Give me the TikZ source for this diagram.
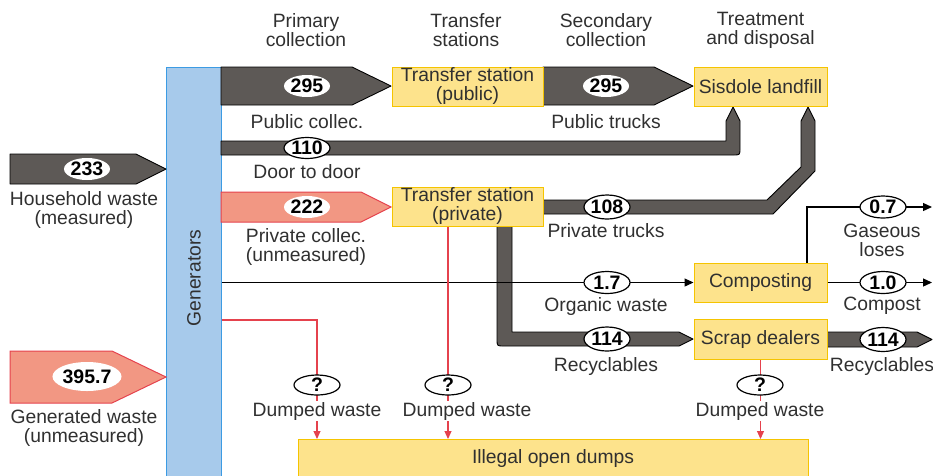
\documentclass[tikz,border=0pt]{standalone}
\usepackage{fontspec}
\setmainfont{Liberation Sans}
\usetikzlibrary{arrows.meta,shapes.geometric}
\definecolor{flowgray}{HTML}{5D5956}
\definecolor{boxfill}{HTML}{FDE38C}
\definecolor{boxedge}{HTML}{F5C400}
\definecolor{genfill}{HTML}{A7CAEB}
\definecolor{genedge}{HTML}{3C9BE3}
\definecolor{salmon}{HTML}{F29783}
\definecolor{salmonedge}{HTML}{E5424D}
\definecolor{txt}{HTML}{303030}
\tikzset{
  box/.style={draw=boxedge, fill=boxfill, line width=1pt, inner sep=0pt, align=center, text=txt},
  val/.style={ellipse, fill=white, draw=black, line width=1.2pt, minimum width=46, minimum height=22,
              inner sep=0pt, font=\fontsize{19.5}{19}\bfseries\selectfont},
  valbare/.style={val, draw=none},
  lbl/.style={align=center, text=txt, inner sep=1pt},
  flow/.style={fill=flowgray, draw=black, line width=0.9pt, line join=round},
  uflow/.style={fill=salmon, draw=salmonedge, line width=1pt, line join=miter},
  thinflow/.style={draw=black, line width=1.2pt, -{Triangle[length=9pt,width=8pt]}},
  dump/.style={draw=salmonedge, line width=1.1pt, -{Triangle[length=8pt,width=7pt]}},
}
\begin{document}
\begin{tikzpicture}[x=1pt, y=-1pt, font=\fontsize{19.3}{19}\selectfont]
\clip (0,0) rectangle (933,475);

% column headers
\node[lbl] (h1) at (306,30) {Primary\\collection};
\node[lbl] (h2) at (466,30) {Transfer\\stations};
\node[lbl] (h3) at (606,30) {Secondary\\collection};
\node[lbl] (h4) at (760.5,30) {Treatment\\and disposal};

% generators column
\node[draw=genedge, fill=genfill, line width=1pt, minimum width=55, minimum height=415, inner sep=0pt] (gen) at (193.5,274.5) {};
\node[text=txt, rotate=90] (gentxt) at (194,278) {Generators};

% yellow boxes (positions only, drawn later on top of the flows)
\path (467.5,86.5) coordinate (tspubc) (467.5,206.5) coordinate (tsprivc)
      (760.5,86.5) coordinate (landc) (760.5,282.5) coordinate (compc) (760.5,339) coordinate (scrapc);

% wide flows
\draw[flow] (10,154) -- (136,154) -- (166,169) -- (136,184) -- (10,184) -- cycle;
\draw[flow] (221,67) -- (352,67) -- (391,86) -- (352,105) -- (221,105) -- cycle;
\draw[flow] (543,67) -- (654,67) -- (693,86) -- (654,105) -- (543,105) -- cycle;
\draw[uflow] (221,192) -- (361,192) -- (391,207) -- (361,222) -- (221,222) -- cycle;
\draw[uflow] (10,351) -- (112,351) -- (166,377) -- (112,403) -- (10,403) -- cycle;
% door to door, up into the landfill
\draw[flow] (221,141) -- (726,141) -- (726,121) -- (733,107) -- (740,121) -- (740,148)
   .. controls (740,155) .. (733,155) -- (221,155) -- cycle;
% private trucks, up into the landfill
\draw[flow] (543,200) -- (767,200) -- (801,167) -- (801,121) -- (808,107) -- (815,121)
   -- (815,171) -- (773,214) -- (543,214) -- cycle;
% recyclables down and across to the scrap dealers
\draw[flow] (497,226) -- (497,339) .. controls (497,346) .. (504,346) -- (679,346) -- (693,339)
   -- (679,332) -- (512,332) -- (512,226) -- cycle;
% recyclables out of the scrap dealers
\draw[flow] (827,332) -- (917,332) -- (932,339.5) -- (917,347) -- (827,347) -- cycle;

% boxes
\node[box, minimum width=151, minimum height=39] (tspub) at (tspubc) {Transfer station\\(public)};
\node[box, minimum width=151, minimum height=39] (tspriv) at (tsprivc) {Transfer station\\(private)};
\node[box, minimum width=133, minimum height=39] (land) at (landc) {Sisdole landfill};
\node[box, minimum width=133, minimum height=39] (comp) at (compc) {Composting};
\node[box, minimum width=133, minimum height=40] (scrap) at (scrapc) {Scrap dealers};
\node[box, minimum width=510, minimum height=50, anchor=north west] (dumps) at (298,439) {};
\node[text=txt] (dumpstxt) at (553,458) {Illegal open dumps};

% thin flows
\coordinate (gasbend) at (807,207);
\coordinate (gasend) at (932,207);
\coordinate (compend) at (932,282.5);
\draw[thinflow] (gen.east |- comp.west) -- (comp.west);
\draw[thinflow] (comp.north -| gasbend) -- (gasbend) -- (gasend);
\draw[thinflow] (comp.east) -- (compend);

% dumped waste
\coordinate (d1) at (317,320);
\draw[dump] (gen.east |- d1) -- (d1) -- (d1 |- dumps.north);
\draw[dump] (tspriv.south -| 448,0) -- (448,0 |- dumps.north);
\draw[dump] (scrap.south) -- (scrap.south |- dumps.north);

% flow values
\node[valbare] (v233) at (87,169) {233};
\node[valbare] (v295a) at (307,86) {295};
\node[val, minimum height=21] (v110) at (307,148) {110};
\node[valbare] (v295b) at (606,86) {295};
\node[valbare] (v222) at (307,207) {222};
\node[val, minimum height=24] (v108) at (607,207) {108};
\node[val] (v17) at (607,282.5) {1.7};
\node[val, minimum height=24] (v114a) at (607,339) {114};
\node[val] (v07) at (883,207) {0.7};
\node[val] (v10) at (883,282.5) {1.0};
\node[val, minimum height=24] (v114b) at (883,339.5) {114};
\node[valbare, minimum width=65, minimum height=29] (v3957) at (87,376.5) {395.7};
\node[val, minimum height=20] (q1) at (317,385) {?};
\node[val, minimum height=20] (q2) at (448,385) {?};
\node[val, minimum height=20] (q3) at (760,385) {?};

% labels
\node[lbl] (lhh) at (84,210) {Household waste\\(measured)};
\node[lbl] (lgw) at (84,428) {Generated waste\\(unmeasured)};
\node[lbl] (lpc) at (307,121.5) {Public collec.};
\node[lbl] (ldd) at (307,171.5) {Door to door};
\node[lbl] (lpt) at (606,121.5) {Public trucks};
\node[lbl] (lprc) at (306,246.5) {Private collec.\\(unmeasured)};
\node[lbl] (lprt) at (606,230.5) {Private trucks};
\node[lbl] (lorg) at (606,306) {Organic waste};
\node[lbl] (lrec1) at (606,366.5) {Recyclables};
\node[lbl] (lgas) at (882,240.5) {Gaseous\\loses};
\node[lbl] (lcomp) at (882,306) {Compost};
\node[lbl] (lrec2) at (882,366.5) {Recyclables};
\node[lbl, fill=white] (ld1) at (317,411) {Dumped waste};
\node[lbl, fill=white] (ld2) at (467,411) {Dumped waste};
\node[lbl, fill=white] (ld3) at (760,411) {Dumped waste};
\end{tikzpicture}
\end{document}
